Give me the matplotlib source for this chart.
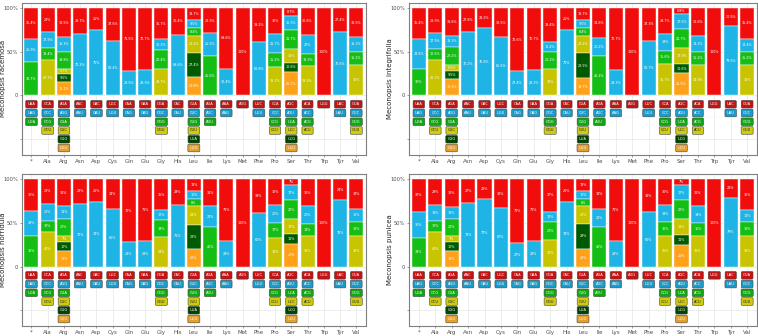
import matplotlib
matplotlib.use("Agg")
import matplotlib.pyplot as plt
import numpy as np

amino_acids = ["*", "Ala", "Arg", "Asn", "Asp", "Cys", "Gln", "Glu", "Gly", "His",
               "Leu", "Ile", "Lys", "Met", "Phe", "Pro", "Ser", "Thr", "Trp", "Tyr", "Val"]

codons = [
    ["UAA", "UAG", "UGA"],
    ["GCA", "GCC", "GCG", "GCU"],
    ["AGA", "AGG", "CGA", "CGC", "CGG", "CGU"],
    ["AAC", "AAU"],
    ["GAC", "GAU"],
    ["UGC", "UGU"],
    ["CAA", "CAG"],
    ["GAA", "GAG"],
    ["GGA", "GGC", "GGG", "GGU"],
    ["CAC", "CAU"],
    ["CUA", "CUC", "CUG", "CUU", "UUA", "UUG"],
    ["AUA", "AUC", "AUU"],
    ["AAA", "AAG"],
    ["AUG"],
    ["UUC", "UUU"],
    ["CCA", "CCC", "CCG", "CCU"],
    ["AGC", "AGU", "UCA", "UCC", "UCG", "UCU"],
    ["ACA", "ACC", "ACG", "ACU"],
    ["UGG"],
    ["UAC", "UAU"],
    ["GUA", "GUC", "GUG", "GUU"],
]

# percent of each codon within its amino acid
racemosa = [
    [35.4, 25.9, 38.7], [28, 17.9, 13.4, 40.7], [33.5, 16.3, 19.8, 5.7, 9.5, 15.2],
    [29.7, 70.3], [25, 75], [37.6, 62.4], [71.5, 28.5], [70.7, 29.3],
    [35.7, 12.2, 22.4, 29.7], [30.4, 69.6], [13.7, 9.5, 8.4, 20.2, 27.4, 20.8],
    [28.9, 25.5, 45.6], [69.6, 30.4], [100], [39.2, 60.8], [30, 21.7, 15.2, 33.1],
    [8.7, 16.3, 21.7, 16, 10.6, 26.7], [30.8, 22, 13.3, 33.9], [100], [27.4, 72.6],
    [33.5, 16.3, 15.2, 35],
]
integrifolia = [
    [35.4, 34.6, 30], [28.9, 17.9, 12.5, 40.7], [31.6, 13.3, 20.2, 6.5, 9.5, 18.9],
    [27.8, 72.2], [23.2, 76.8], [33.5, 66.5], [72.6, 27.4], [70.7, 29.3],
    [38.4, 11.4, 20.2, 30], [25, 75], [13.7, 9.5, 8.4, 20.2, 28.5, 19.7],
    [34.6, 20.2, 45.2], [70.7, 29.3], [100], [37.3, 62.7], [29.7, 19, 15.6, 35.7],
    [6.8, 17.5, 21.7, 17.9, 10.6, 25.5], [31.6, 18.3, 15.2, 34.9], [100], [20.5, 79.5],
    [35.4, 14.4, 15.2, 35],
]
horridula = [
    [36, 29, 35], [28, 20, 12, 40], [31, 14, 20, 7, 10, 18],
    [28, 72], [26, 74], [34, 66], [72, 28], [71, 29],
    [35, 12, 19, 34], [29, 71], [13, 10, 8, 21, 28, 20],
    [31, 24, 45], [71, 29], [100], [39, 61], [30, 20, 17, 33],
    [7, 17, 22, 17, 11, 26], [31, 20, 14, 35], [100], [24, 76],
    [34, 15, 16, 35],
]
punicea = [
    [37, 30, 33], [29, 19, 12, 40], [32, 13, 20, 7, 10, 18],
    [27, 73], [23, 77], [33, 67], [73, 27], [71, 29],
    [37, 12, 20, 31], [26, 74], [13, 10, 8, 20, 29, 20],
    [34, 21, 45], [71, 29], [100], [38, 62], [30, 19, 16, 35],
    [7, 17, 22, 18, 11, 25], [31, 19, 15, 35], [100], [21, 79],
    [35, 14, 16, 35],
]
species = ["Meconopsis racemosa", "Meconopsis integrifolia",
           "Meconopsis horridula", "Meconopsis punicea"]

seg_colors = ["#F20D0D", "#1EB4E6", "#14BE14", "#C8C400", "#005A00", "#FFA21A"]
box_colors = ["#C21414", "#1A9BCB", "#10A810", "#CFCB10", "#004400", "#E5A02A"]
box_text = ["white", "white", "white", "#222222", "white", "white"]


def draw_panel(ax, pct, name, label_x):
    x = np.arange(len(amino_acids))
    for i, vals in enumerate(pct):
        n = len(vals)
        for k in range(n):
            bottom = sum(vals[k + 1:])
            ax.bar(x[i], vals[k], bottom=bottom, width=0.86, color=seg_colors[k],
                   edgecolor="white", linewidth=0.3, zorder=2)
            lab = "%g%%" % vals[k]
            ax.text(x[i], bottom + vals[k] / 2, lab, ha="center", va="center",
                    fontsize=2.4, color="white", zorder=3)
            # codon label below the bar
            ax.text(x[i], -10 * (k + 1), codons[i][k], ha="center", va="center",
                    fontsize=2.6, color=box_text[k], zorder=3,
                    bbox=dict(boxstyle="round,pad=0.5,rounding_size=0.3",
                              fc=box_colors[k], ec="#444444", lw=0.4))
    ax.set_xlim(-0.6, len(amino_acids) - 0.4)
    ax.set_ylim(-68, 106)
    ax.set_xticks(x)
    ax.set_xticklabels(amino_acids, fontsize=4.0, color="#4D4D4D")
    ax.set_yticks([-50, 0, 50, 100])
    ax.set_yticklabels(["", "0", "50%", "100%"], fontsize=3.7, color="#4D4D4D")
    ax.set_yticks([-25, 25, 75], minor=True)
    ax.tick_params(length=1.5, width=0.4, color="#555555", pad=1.2)
    ax.tick_params(which="minor", length=0)
    ax.grid(True, which="major", color="#E6E6E6", linewidth=0.5, zorder=0)
    ax.grid(True, which="minor", axis="y", color="#F2F2F2", linewidth=0.3, zorder=0)
    ax.set_axisbelow(True)
    for s in ax.spines.values():
        s.set_color("#7F7F7F")
        s.set_linewidth(0.8)
    ax.set_ylabel(name, fontsize=5.0, color="#222222")
    ax.yaxis.set_label_coords(label_x, 0.5)


fig = plt.figure(figsize=(7.58, 3.36), dpi=100)
W, H = 758.0, 336.0
boxes = [
    (21.7, 2.7, 366, 155),
    (409, 2.7, 757, 155),
    (21.7, 174, 366, 326),
    (409, 174, 757, 326),
]
for (x0, y0, x1, y1), pct, name in zip(boxes, [racemosa, integrifolia, horridula, punicea], species):
    ax = fig.add_axes([x0 / W, 1 - y1 / H, (x1 - x0) / W, (y1 - y0) / H])
    # y label sits about 16 px left of the left spine
    label_x = -16.0 / (x1 - x0)
    draw_panel(ax, pct, name, label_x)

fig.savefig("out.png", dpi=100)
